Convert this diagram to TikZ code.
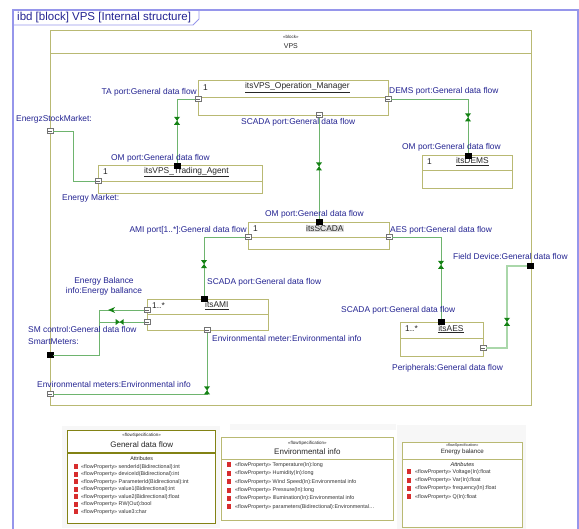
\documentclass[tikz,border=0pt]{standalone}
\usepackage{fontspec}
\setmainfont{Liberation Sans}
\usetikzlibrary{arrows.meta,positioning,calc}

\definecolor{frm}{RGB}{150,150,235}
\definecolor{olv}{RGB}{185,185,115}
\definecolor{olvd}{RGB}{130,130,20}
\definecolor{lnk}{RGB}{110,180,110}
\definecolor{lnkl}{RGB}{170,215,170}
\definecolor{mk}{RGB}{20,130,20}
\definecolor{txt}{RGB}{35,35,145}
\definecolor{icn}{RGB}{215,45,45}

\begin{document}
\begin{tikzpicture}[
    x=1pt, y=-1pt,
    prt/.style={draw=olv, line width=0.8pt, anchor=north west, inner sep=0pt},
    sep/.style={draw=olv, line width=0.8pt},
    port/.style={draw=black!55, fill=white, minimum size=5.5pt, inner sep=0pt, line width=0.5pt,
      path picture={\draw[black!60, line width=0.35pt]
        ([xshift=-1.6pt]path picture bounding box.center) -- ([xshift=1.6pt]path picture bounding box.center);}},
    bport/.style={draw=black, fill=black, minimum size=5.5pt, inner sep=0pt, line width=0.5pt},
    flow/.style={draw=lnk, line width=0.8pt},
    flowl/.style={draw=lnkl, line width=1.6pt},
    lbl/.style={text=txt, font=\fontsize{8.4}{10}\selectfont, inner sep=0pt},
    nm/.style={font=\fontsize{8.4}{10}\selectfont, inner sep=0pt, text=black!85},
    spec/.style={draw=olv, line width=0.7pt, fill=white, anchor=north west, inner sep=0pt},
    row/.style={anchor=west, font=\fontsize{5.4}{6}\selectfont, inner sep=0pt, text=black!80},
    hd/.style={inner sep=0pt, text=black!85}
]
\useasboundingbox (0,0) rectangle (579,529);

% frame
\draw[frm, line width=1.5pt] (13,529) -- (13,10) -- (578,10) -- (578,529);
\draw[frm, line width=0.8pt] (13,25) -- (193,25) -- (199,19) -- (199,10);
\node[anchor=west, inner sep=0pt, text=txt, font=\fontsize{11.5}{13}\selectfont] (ttl) at (17,17.5) {ibd [block] VPS [Internal structure]};

% VPS block
\node[prt, minimum width=481pt, minimum height=375pt] (vps) at (50,30) {};
\draw[sep] ([yshift=-23pt]vps.north west) -- ([yshift=-23pt]vps.north east);
\node[hd, font=\fontsize{4.5}{5}\selectfont] (vpsst) at ([yshift=-6.5pt]vps.north) {«block»};
\node[hd, font=\fontsize{7}{8}\selectfont] (vpsnm) at ([yshift=-16pt]vps.north) {VPS};

% parts
\node[prt, minimum width=190pt, minimum height=35pt] (opm) at (198,80) {};
\draw[sep] ([yshift=-17pt]opm.north west) -- ([yshift=-17pt]opm.north east);
\node[nm, anchor=west] (opmm) at ([xshift=5pt,yshift=-7.5pt]opm.north west) {1};
\node[nm] (opmn) at ([xshift=4pt,yshift=-7.5pt]opm.north) {\underline{itsVPS\_Operation\_Manager}};

\node[prt, minimum width=164pt, minimum height=28pt] (ta) at (98,165) {};
\draw[sep] ([yshift=-16pt]ta.north west) -- ([yshift=-16pt]ta.north east);
\node[nm, anchor=west] (tam) at ([xshift=5pt,yshift=-7pt]ta.north west) {1};
\node[nm] (tan) at ([xshift=6pt,yshift=-7pt]ta.north) {\underline{itsVPS\_Trading\_Agent}};

\node[prt, minimum width=90pt, minimum height=33pt] (dems) at (422,155) {};
\draw[sep] ([yshift=-15pt]dems.north west) -- ([yshift=-15pt]dems.north east);
\node[nm, anchor=west] (demsm) at ([xshift=5pt,yshift=-6.5pt]dems.north west) {1};
\node[nm] (demsn) at ([xshift=5pt,yshift=-6.5pt]dems.north) {\underline{itsDEMS}};

\node[prt, minimum width=141pt, minimum height=27pt] (scada) at (248,222) {};
\draw[sep] ([yshift=-15pt]scada.north west) -- ([yshift=-15pt]scada.north east);
\node[nm, anchor=west] (scadam) at ([xshift=5pt,yshift=-6.5pt]scada.north west) {1};
\node[nm, fill=black!12, inner sep=0.6pt] (scadan) at ([xshift=6pt,yshift=-6.5pt]scada.north) {itsSCADA};

\node[prt, minimum width=121pt, minimum height=31pt] (ami) at (147,299) {};
\draw[sep] ([yshift=-15pt]ami.north west) -- ([yshift=-15pt]ami.north east);
\node[nm, anchor=west] (amim) at ([xshift=5pt,yshift=-6.5pt]ami.north west) {1..*};
\node[nm] (amin) at ([xshift=9pt,yshift=-6.5pt]ami.north) {\underline{itsAMI}};

\node[prt, minimum width=83pt, minimum height=34pt] (aes) at (400,322) {};
\draw[sep] ([yshift=-16pt]aes.north west) -- ([yshift=-16pt]aes.north east);
\node[nm, anchor=west] (aesm) at ([xshift=5pt,yshift=-7pt]aes.north west) {1..*};
\node[nm] (aesn) at ([xshift=9pt,yshift=-7pt]aes.north) {\underline{itsAES}};

% ports
\node[port] (pta) at (198,99) {};
\node[port] (pdems) at (388,99) {};
\node[port] (pscopm) at (319,115) {};
\node[bport] (pomta) at (177,166) {};
\node[port] (pem) at (98,181) {};
\node[port] (pesm) at (50,131) {};
\node[bport] (pomdems) at (468,156) {};
\node[bport] (pomsc) at (319,222) {};
\node[port] (pami) at (248,237) {};
\node[port] (paes) at (389,237) {};
\node[bport] (pscami) at (204,299) {};
\node[port] (peb) at (147,310) {};
\node[port] (psmc) at (147,322) {};
\node[port] (penv) at (207,330) {};
\node[bport] (psm) at (50,355) {};
\node[port] (penvs) at (50,394) {};
\node[bport] (pscaes) at (441,322) {};
\node[port] (pper) at (483,348) {};
\node[bport] (pfd) at (530,266) {};

% connectors
\draw[flow] (pta) -| coordinate[pos=.67] (x1) (pomta);
\draw[flow] (pesm) -- ++(23,0) |- (pem);
\draw[flow] (pdems) -| coordinate[pos=.67] (x2) (pomdems);
\draw[flow] (pscopm) -- coordinate[pos=.48] (x3) (pomsc);
\draw[flow] (pami) -| coordinate[pos=.73] (x4) (pscami);
\draw[flow] (paes) -| coordinate[pos=.67] (x5) (pscaes);
\draw[flowl] (pfd) -- ++(-23,0) |- coordinate[pos=.34] (x6) (pper);
\draw[flow] (peb) -- coordinate[pos=.71] (a1) ++(-48,0) |- (psm);
\draw[flow] (psmc) -- coordinate[pos=.54] (x7) ++(-48,0);
\draw[flow] (penv) |- coordinate[pos=.47] (x8) (penvs);
\foreach \m in {x1,x2,x3,x4,x5,x6,x8}
  \fill[mk] (\m) ++(-3,-4) -- ++(6,0) -- ++(-6,8) -- ++(6,0) -- cycle;
\fill[mk] (x7) ++(-4,-3) -- ++(0,6) -- ++(8,-6) -- ++(0,6) -- cycle;
\fill[mk] (a1) ++(-4,0) -- ++(7,-3) -- ++(-2,3) -- ++(2,3) -- cycle;

% port labels
\node[lbl, anchor=east] (lta) at (197,92) {TA port:General data flow};
\node[lbl, anchor=west] (ldems) at (389,91) {DEMS port:General data flow};
\node[lbl, anchor=west] (lscopm) at (241,122) {SCADA port:General data flow};
\node[lbl, anchor=west] (lesm) at (16,119) {EnergzStockMarket:};
\node[lbl, anchor=west] (lomta) at (111,158) {OM port:General data flow};
\node[lbl, anchor=west] (lem) at (62,198) {Energy Market:};
\node[lbl, anchor=west] (lomdems) at (402,147) {OM port:General data flow};
\node[lbl, anchor=west] (lomsc) at (265,214) {OM port:General data flow};
\node[lbl, anchor=east] (lami) at (247,230) {AMI port[1..*]:General data flow};
\node[lbl, anchor=west] (laes) at (390,230) {AES port:General data flow};
\node[lbl, anchor=west] (lfd) at (453,256) {Field Device:General data flow};
\node[lbl, anchor=west] (lscami) at (207,282) {SCADA port:General data flow};
\node[lbl, align=center] (leb) at (104,286) {Energy Balance\\info:Energy ballance};
\node[lbl, anchor=west] (lsmc) at (28,329) {SM control:General data flow};
\node[lbl, anchor=west] (lsm) at (28,342) {SmartMeters:};
\node[lbl, anchor=west] (lenv) at (212,338) {Environmental meter:Environmental info};
\node[lbl, anchor=west] (lscaes) at (341,310) {SCADA port:General data flow};
\node[lbl, anchor=west] (lper) at (392,368) {Peripherals:General data flow};
\node[lbl, anchor=west] (lenvs) at (37,384) {Environmental meters:Environmental info};

% flow specifications
\fill[black!3] (62,426) rectangle (220,528);
\fill[black!3] (230,424) rectangle (396,430);
\fill[black!3] (397,425) rectangle (526,529);

\node[spec, draw=olvd, line width=1.4pt, minimum width=148pt, minimum height=93pt] (gdf) at (67,430) {};
\draw[draw=olvd, line width=1.2pt] ([yshift=-23pt]gdf.north west) -- ([yshift=-23pt]gdf.north east);
\node[hd, font=\fontsize{4.5}{5}\selectfont] (gdfst) at ([yshift=-5pt]gdf.north) {«flowSpecification»};
\node[hd, font=\fontsize{8}{9}\selectfont] (gdfnm) at ([yshift=-15pt]gdf.north) {General data flow};
\node[hd, font=\fontsize{5.4}{6}\selectfont] (gdfat) at ([yshift=-29pt]gdf.north) {Attributes};
\foreach \t [count=\i] in {senderId(Bidirectional):int, deviceId(Bidirectional):int,
    ParameterId(Bidirectional):int, value1(Bidirectional):int, value2(Bidirectional):float,
    RW(Out):bool, value3:char} {
  \fill[icn] (74,{457+7.5*\i}) rectangle ++(4,5);
  \node[row] (gdf\i) at (81,{459.5+7.5*\i}) {«flowProperty» \t};
}

\node[spec, minimum width=172pt, minimum height=83pt] (env) at (221,437) {};
\draw[sep, line width=0.7pt] ([yshift=-22pt]env.north west) -- ([yshift=-22pt]env.north east);
\node[hd, font=\fontsize{4.5}{5}\selectfont] (envst) at ([yshift=-6pt]env.north) {«flowSpecification»};
\node[hd, font=\fontsize{8}{9}\selectfont] (envnm) at ([yshift=-15pt]env.north) {Environmental info};
\foreach \t [count=\i] in {Temperature(In):long, Humidity(In):long,
    Wind Speed(In):Environmental info, Pressure(In):long,
    Illumination(In):Environmental info, parameters(Bidirectional):Environmental\ldots} {
  \fill[icn] (227,{454.1+8.4*\i}) rectangle ++(4,5);
  \node[row] (env\i) at (235,{456.6+8.4*\i}) {«flowProperty» \t};
}

\node[spec, minimum width=120pt, minimum height=85pt] (eb) at (402,442) {};
\draw[sep, line width=0.7pt] ([yshift=-17pt]eb.north west) -- ([yshift=-17pt]eb.north east);
\node[hd, font=\fontsize{3.8}{4}\selectfont] (ebst) at ([yshift=-3.5pt]eb.north) {«flowSpecification»};
\node[hd, font=\fontsize{6.2}{7}\selectfont] (ebnm) at ([yshift=-10pt]eb.north) {Energy balance};
\node[hd, font=\fontsize{5.6}{6}\selectfont\itshape] (ebat) at ([yshift=-22pt]eb.north) {Attributes};
\foreach \t [count=\i] in {Voltage(In):float, Var(In):float, frequency(In):float, Q(In):float} {
  \fill[icn] (407,{461.2+8.3*\i}) rectangle ++(4,5);
  \node[row] (eb\i) at (415,{463.7+8.3*\i}) {«flowProperty» \t};
}
\end{tikzpicture}
\end{document}
